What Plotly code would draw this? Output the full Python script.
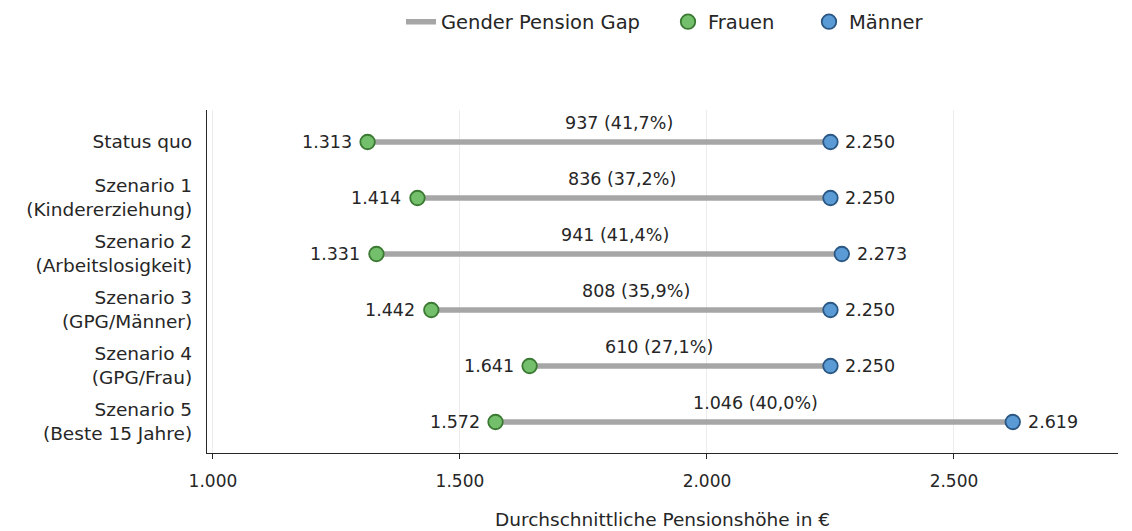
import plotly.graph_objects as go

categories = ["Status quo", "Szenario 1<br>(Kindererziehung)", "Szenario 2<br>(Arbeitslosigkeit)",
              "Szenario 3<br>(GPG/Männer)", "Szenario 4<br>(GPG/Frau)", "Szenario 5<br>(Beste 15 Jahre)"]
frauen = [1313, 1414, 1331, 1442, 1641, 1572]
maenner = [2250, 2250, 2273, 2250, 2250, 2619]
frauen_labels = ["1.313", "1.414", "1.331", "1.442", "1.641", "1.572"]
maenner_labels = ["2.250", "2.250", "2.273", "2.250", "2.250", "2.619"]
gap_labels = ["937 (41,7%)", "836 (37,2%)", "941 (41,4%)", "808 (35,9%)", "610 (27,1%)", "1.046 (40,0%)"]
x_ticks = [1000, 1500, 2000, 2500]
x_ticklabels = ["1.000", "1.500", "2.000", "2.500"]

# manual nudges (px) of the gap labels, as placed in the original
gap_label_nudge = [20, -2, 6, 5, -21, 1]

FONT = "DejaVu Sans"
TXT = "#262626"
FS = 17.5

fig = go.Figure()

lx, ly = [], []
for c, w, m in zip(categories, frauen, maenner):
    lx += [w, m, None]
    ly += [c, c, None]
fig.add_trace(go.Scatter(x=lx, y=ly, mode="lines", name="Gender Pension Gap", legend="legend",
                         showlegend=True,
                         line=dict(color="#a6a6a6", width=5.5), hoverinfo="skip"))

fig.add_trace(go.Scatter(x=frauen, y=categories, mode="markers", name="Frauen", legend="legend2",
                         showlegend=True,
                         marker=dict(size=14.5, color="#74bf6b", line=dict(color="#3a7a32", width=1.8))))
fig.add_trace(go.Scatter(x=maenner, y=categories, mode="markers", name="Männer", legend="legend3",
                         showlegend=True,
                         marker=dict(size=14.5, color="#5b9bd5", line=dict(color="#2a5783", width=1.8))))

for c, w, m, fl, ml, gl, nd in zip(categories, frauen, maenner, frauen_labels, maenner_labels,
                                   gap_labels, gap_label_nudge):
    fig.add_annotation(x=w, y=c, text=fl, showarrow=False, xanchor="right", xshift=-14,
                       font=dict(family=FONT, size=FS, color=TXT))
    fig.add_annotation(x=m, y=c, text=ml, showarrow=False, xanchor="left", xshift=13,
                       font=dict(family=FONT, size=FS, color=TXT))
    fig.add_annotation(x=(w + m) / 2, y=c, text=gl, showarrow=False, yshift=19, xshift=nd,
                       font=dict(family=FONT, size=FS, color=TXT))

W, H = 1124, 523
leg_common = dict(orientation="h", yref="container", y=1 - 14 / H, yanchor="middle", xref="container",
                  xanchor="left", font=dict(family=FONT, size=19.5, color=TXT), itemwidth=30,
                  bgcolor="rgba(0,0,0,0)", visible=True)
fig.update_layout(
    width=W, height=H,
    showlegend=True,
    margin=dict(l=199, r=14, t=102, b=78),
    plot_bgcolor="white", paper_bgcolor="white",
    separators=",.",
    font=dict(family=FONT, size=FS, color=TXT),
    legend=dict(leg_common, x=393 / W),
    legend2=dict(leg_common, x=660 / W),
    legend3=dict(leg_common, x=801 / W),
    xaxis=dict(range=[988, 2832], tickvals=x_ticks, ticktext=x_ticklabels,
               automargin=False,
               showgrid=True, gridcolor="#ececec", gridwidth=1,
               showline=True, linecolor="#262626", linewidth=1.3,
               ticks="outside", ticklen=5, tickcolor="#262626",
               ticklabelstandoff=7,
               zeroline=False, tickfont=dict(family=FONT, size=17, color=TXT),
               title=dict(text="Durchschnittliche Pensionshöhe in €", standoff=23,
                          font=dict(family=FONT, size=18.5, color=TXT))),
    yaxis=dict(categoryorder="array", categoryarray=categories, range=[5.554, -0.571],
               automargin=False,
               showgrid=False, showline=True, linecolor="#262626", linewidth=1.3,
               ticks="", ticklabelstandoff=10, zeroline=False,
               tickfont=dict(family=FONT, size=18.5, color=TXT)),
)

fig.write_html("out.html")
